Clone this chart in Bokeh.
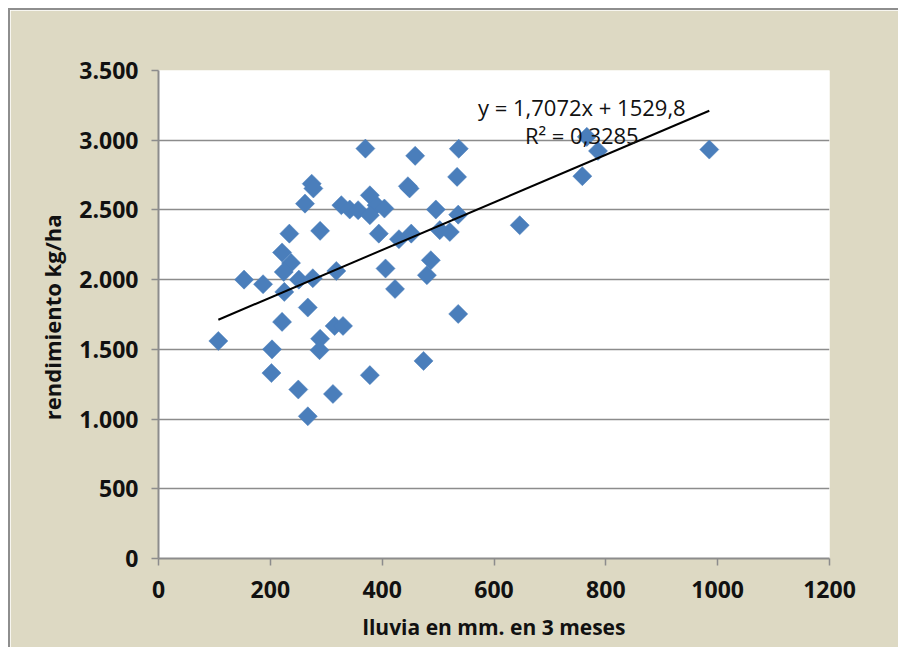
import numpy as np
from bokeh.plotting import figure
from bokeh.models import FixedTicker, Label, ColumnDataSource
from bokeh.embed import file_html
from bokeh.resources import INLINE

# ---- data ----
lluvia = [107, 153, 187, 203, 202, 221, 237, 224, 221, 225, 234, 251, 250, 262,
          267, 267, 274, 277, 276, 289, 289, 288, 312, 318, 315, 330, 327, 342,
          357, 370, 378, 390, 378, 404, 394, 378, 406, 423, 430, 446, 449, 452,
          459, 474, 480, 487, 496, 503, 521, 534, 537, 536, 536, 646, 758, 766,
          786, 985]
rendimiento = [1560, 2000, 1967, 1500, 1330, 2195, 2120, 2055, 1697, 1912, 2330,
               2000, 1212, 2545, 1800, 1020, 2688, 2654, 2010, 2350, 1576, 1494,
               1180, 2062, 1668, 1668, 2534, 2503, 2498, 2940, 2605, 2534, 2462,
               2510, 2330, 1315, 2080, 1933, 2290, 2670, 2654, 2330, 2888, 1417,
               2032, 2139, 2503, 2355, 2342, 2737, 2939, 2466, 1754, 2390, 2742,
               3024, 2923, 2933]
slope = 1.7072
intercept = 1529.8
r2 = 0.3285
x_ticks = [0, 200, 400, 600, 800, 1000, 1200]
y_ticks = [0, 500, 1000, 1500, 2000, 2500, 3000, 3500]

BG = "#ddd9c3"
GRID = "#8c8c8c"
FONT = "Open Sans"

p = figure(width=890, height=639, x_range=(0, 1200), y_range=(0, 3500),
           output_backend="svg", toolbar_location=None,
           background_fill_color="white", border_fill_color=BG,
           min_border_left=148, min_border_top=60, min_border_right=71,
           min_border_bottom=91)
p.styles = {"margin-left": "8px", "margin-top": "8px",
            "border-left": "2px solid #8e8e8e", "border-top": "2px solid #8e8e8e"}
p.outline_line_color = None

src = ColumnDataSource(dict(x=lluvia, y=rendimiento))
p.scatter("x", "y", source=src, marker="square", angle=np.pi / 4, size=13.5,
          fill_color="#4a7ebb", line_color="#4a7ebb", line_width=0.5)

xs = np.array([min(lluvia), max(lluvia)], dtype=float)
p.line(xs, slope * xs + intercept, line_color="black", line_width=2)

fmt_eq = f"y = {slope:.4f}x + {intercept:.1f}".replace(".", ",")
fmt_r2 = f"R² = {r2:.4f}".replace(".", ",")
p.add_layout(Label(x=757, y=3237, text=fmt_eq, text_align="center",
                   text_baseline="middle", text_font=FONT, text_font_size="22px",
                   text_color="#111111"))
p.add_layout(Label(x=757, y=3036, text=fmt_r2, text_align="center",
                   text_baseline="middle", text_font=FONT, text_font_size="22px",
                   text_color="#111111"))

# axes
p.xaxis.ticker = FixedTicker(ticks=x_ticks)
p.yaxis.ticker = FixedTicker(ticks=y_ticks)
p.yaxis.major_label_overrides = {v: f"{v:,}".replace(",", ".") for v in y_ticks}
for ax in (p.xaxis[0], p.yaxis[0]):
    ax.axis_line_color = GRID
    ax.axis_line_width = 2
    ax.major_tick_line_color = GRID
    ax.major_tick_line_width = 1.5
    ax.major_tick_out = 7
    ax.major_tick_in = 0
    ax.minor_tick_line_color = None
    ax.major_label_text_font = FONT
    ax.major_label_text_font_style = "bold"
    ax.major_label_text_font_size = "23px"
    ax.major_label_text_color = "#111111"
    ax.axis_label_text_font = FONT
    ax.axis_label_text_font_style = "bold"
    ax.axis_label_text_font_size = "21px"
    ax.axis_label_text_color = "#111111"
p.yaxis.axis_label_text_font_size = "22px"
p.xaxis.major_label_standoff = 15
p.yaxis.major_label_standoff = 13
p.xaxis.axis_label = "lluvia en mm. en 3 meses"
p.yaxis.axis_label = "rendimiento  kg/ha"
p.xaxis.axis_label_standoff = 12
p.yaxis.axis_label_standoff = 9

p.xgrid.grid_line_color = None
p.ygrid.grid_line_color = GRID
p.ygrid.grid_line_width = 1.5

open("out.html", "w").write(file_html(p, INLINE))
